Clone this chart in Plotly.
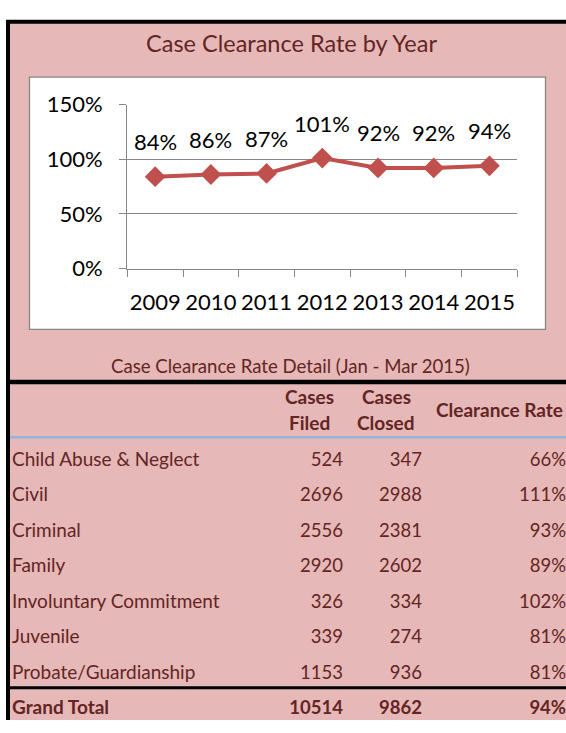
import plotly.graph_objects as go

# ---------------- data ----------------
years = ["2009", "2010", "2011", "2012", "2013", "2014", "2015"]
rates = [0.84, 0.86, 0.87, 1.01, 0.92, 0.92, 0.94]

y_ticks = [0, 0.5, 1.0, 1.5]

case_types = ["Child Abuse & Neglect", "Civil", "Criminal", "Family",
              "Involuntary Commitment", "Juvenile", "Probate/Guardianship",
              "Grand Total"]
cases_filed = [524, 2696, 2556, 2920, 326, 339, 1153, 10514]
cases_closed = [347, 2988, 2381, 2602, 334, 274, 936, 9862]
clearance = ["66%", "111%", "93%", "89%", "102%", "81%", "81%", "94%"]

title_text = "Case Clearance Rate by Year"
detail_title = "Case Clearance Rate Detail (Jan - Mar 2015)"

# ---------------- layout helpers ----------------
W, H = 566, 733
FONT = "Lato"
DARK = "#632523"
PINK = "#E6B8B7"
RED = "#C0504D"
GRID = "#868686"


def fx(x):
    return x / W


def fy(y):
    return 1 - y / H


fig = go.Figure()

# line chart
fig.add_trace(go.Scatter(
    x=years, y=rates, mode="lines+markers",
    line=dict(color=RED, width=4),
    marker=dict(symbol="diamond", size=16, color=RED),
    xaxis="x", yaxis="y", showlegend=False, hoverinfo="skip",
    cliponaxis=False,
))

annotations = []
for i, r in enumerate(rates):
    annotations.append(dict(
        x=i, y=r, xref="x", yref="y", text=f"{round(r*100)}%",
        showarrow=False, yshift=35, xanchor="center", yanchor="middle",
        font=dict(family=FONT, size=22, color="black"),
    ))

# table text (second hidden subplot)
bold = [False] * (len(case_types) - 1) + [True]


def fmt(v, b):
    return f"<b>{v}</b>" if b else f"{v}"


LFS = 19    # row label font size
NFS = 18.5  # number font size
col_specs = [
    ([fmt(c, b) for c, b in zip(case_types, bold)], 12, "middle right", LFS),
    ([fmt(v, b) for v, b in zip(cases_filed, bold)], 343, "middle left", NFS),
    ([fmt(v, b) for v, b in zip(cases_closed, bold)], 422, "middle left", NFS),
    ([fmt(v, b) for v, b in zip(clearance, bold)], 566, "middle left", NFS),
]
for texts, xpos, tpos, fs in col_specs:
    fig.add_trace(go.Scatter(
        x=[xpos] * len(case_types), y=case_types, mode="text",
        text=texts, textposition=tpos,
        textfont=dict(family=FONT, size=fs, color=DARK),
        xaxis="x2", yaxis="y2", showlegend=False, hoverinfo="skip",
        cliponaxis=False,
    ))

# header & titles
hdr_font = dict(family=FONT, size=19, color=DARK)
for txt, x, y in [("<b>Cases</b>", 309, 397), ("<b>Filed</b>", 309, 424),
                  ("<b>Cases</b>", 386, 397), ("<b>Closed</b>", 386, 424),
                  ("<b>Clearance Rate</b>", 499, 411)]:
    annotations.append(dict(x=fx(x), y=fy(y), xref="paper", yref="paper",
                            text=txt, showarrow=False, xanchor="center",
                            yanchor="middle", font=hdr_font))
annotations.append(dict(x=fx(291), y=fy(30), xref="paper", yref="paper",
                        text=title_text, showarrow=False, xanchor="center",
                        yanchor="middle",
                        font=dict(family=FONT, size=23.5, color=DARK)))
annotations.append(dict(x=fx(290), y=fy(365), xref="paper", yref="paper",
                        text=detail_title, showarrow=False, xanchor="center",
                        yanchor="middle",
                        font=dict(family=FONT, size=18.6, color=DARK)))

shapes = [
    dict(type="rect", xref="paper", yref="paper", x0=fx(6), x1=1, y0=0, y1=fy(6),
         fillcolor="black", line=dict(width=0), layer="below"),
    dict(type="rect", xref="paper", yref="paper", x0=fx(10), x1=1, y0=0, y1=fy(10),
         fillcolor=PINK, line=dict(width=0), layer="below"),
    dict(type="rect", xref="paper", yref="paper", x0=fx(29.5), x1=fx(545.5),
         y0=fy(327.5), y1=fy(65.5), fillcolor="white",
         line=dict(color=GRID, width=1.3), layer="below"),
    dict(type="line", xref="paper", yref="paper", x0=fx(6), x1=1,
         y0=fy(382), y1=fy(382), line=dict(color="black", width=4.5), layer="below"),
    dict(type="line", xref="paper", yref="paper", x0=fx(10), x1=1,
         y0=fy(439.5), y1=fy(439.5), line=dict(color="#95B3D7", width=2.5), layer="below"),
    dict(type="line", xref="paper", yref="paper", x0=fx(6), x1=1,
         y0=fy(699.5), y1=fy(699.5), line=dict(color="black", width=3), layer="below"),
]

row0, row7 = 464, 722
row_h = (row7 - row0) / 7.0
fig.update_layout(
    width=W, height=H,
    margin=dict(l=0, r=0, t=0, b=0),
    paper_bgcolor="white",
    plot_bgcolor="rgba(0,0,0,0)",
    font=dict(family=FONT, color="black"),
    xaxis=dict(
        domain=[fx(127.3), fx(517.3)], anchor="y", type="category",
        range=[-0.5, 6.5], showgrid=False, showline=True, linecolor=GRID,
        linewidth=1.3, ticks="outside", tickson="boundaries", ticklen=7,
        tickcolor=GRID, tickwidth=1.3, ticklabelstandoff=14, tickangle=0,
        tickfont=dict(family=FONT, size=22, color="black"), fixedrange=True,
    ),
    yaxis=dict(
        domain=[fy(264.3), fy(94)], anchor="x", range=[0, 1.5],
        tickvals=y_ticks, tickformat=".0%", showgrid=True, gridcolor=GRID,
        gridwidth=1.3, zeroline=False, showline=True, linecolor=GRID,
        linewidth=1.3, ticks="outside", ticklen=7, tickcolor=GRID,
        tickwidth=1.3, ticklabelstandoff=12,
        tickfont=dict(family=FONT, size=22, color="black"), fixedrange=True,
    ),
    xaxis2=dict(domain=[0, 1], anchor="y2", range=[0, W], visible=False,
                fixedrange=True),
    yaxis2=dict(domain=[0, fy(440)], anchor="x2", type="category",
                categoryorder="array", categoryarray=case_types,
                range=[(733 - row0) / row_h, (440 - row0) / row_h],
                visible=False, fixedrange=True),
    shapes=shapes,
    annotations=annotations,
)

post = ("var de=document.documentElement, b=document.body;"
        "de.style.margin='0';de.style.padding='0';de.style.overflow='hidden';"
        "b.style.margin='0';b.style.padding='0';b.style.overflow='hidden';"
        "var gd=document.getElementById('{plot_id}');"
        "var p=gd.parentElement;p.style.margin='0';p.style.padding='0';")

fig.write_html("out.html", post_script=post, config={"displayModeBar": False})
